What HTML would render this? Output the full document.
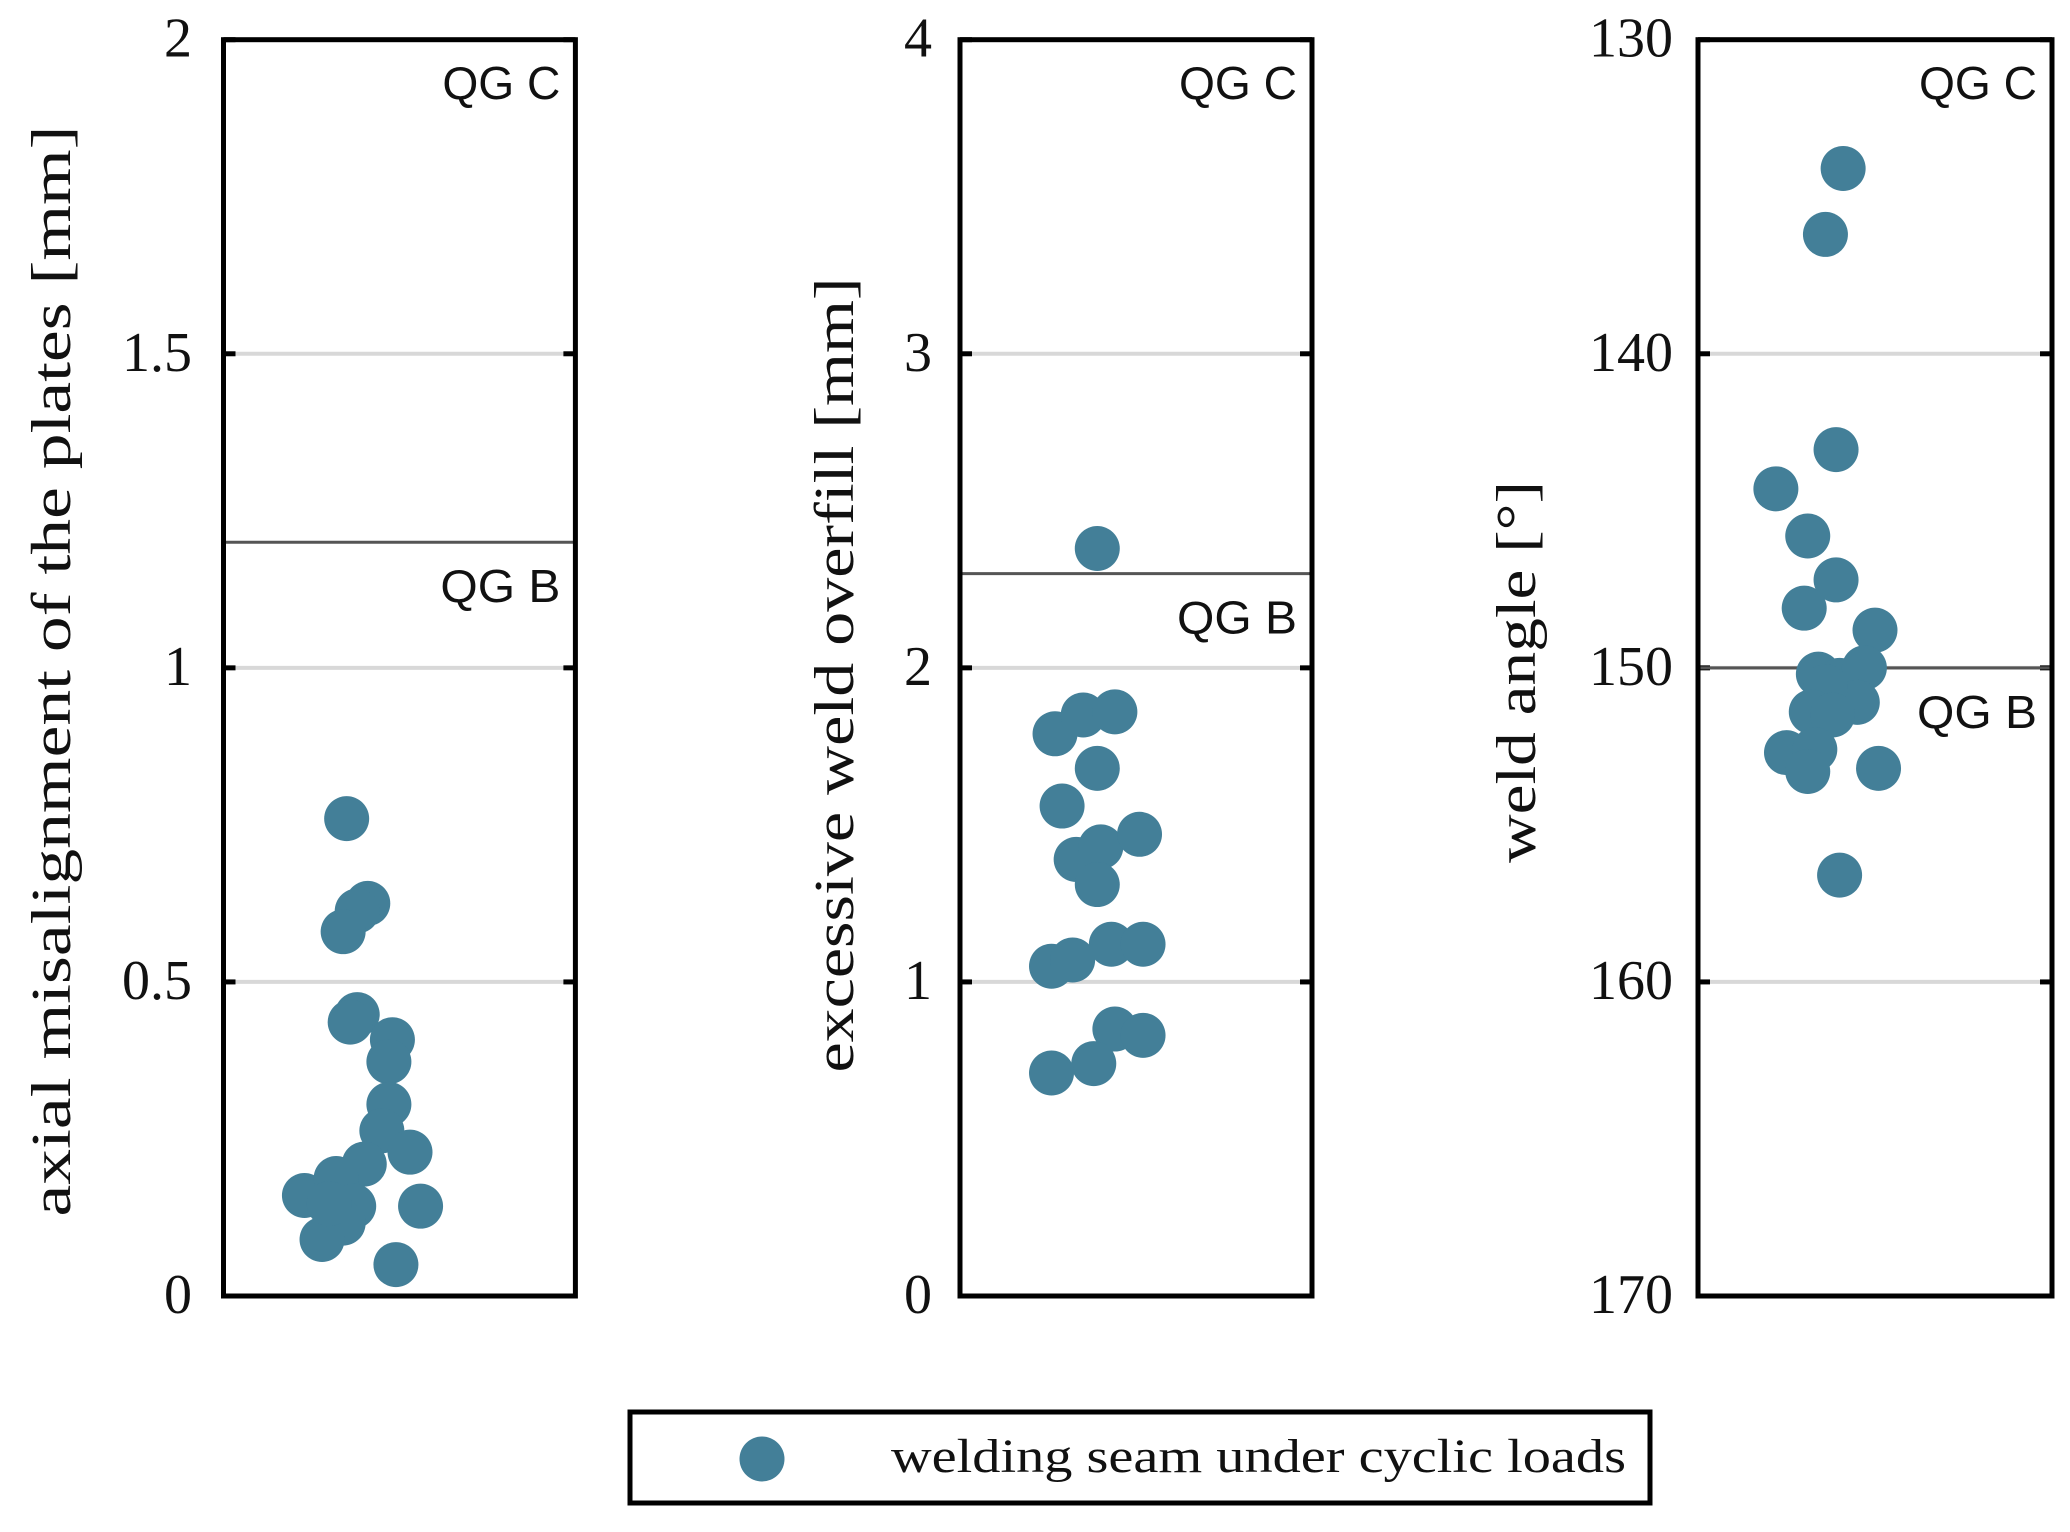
<!DOCTYPE html>
<html><head><meta charset="utf-8"><style>
html,body{margin:0;padding:0;background:#fff;}
svg{display:block;}
text{font-family:"Liberation Serif",serif;fill:#111;}
.qg{font-family:"Liberation Sans",sans-serif;}
</style></head><body>
<svg id="chart" width="2070" height="1532" viewBox="0 0 2070 1532"></svg>
<script>
// ----- data -----
const p1Values = [0.76,0.625,0.613,0.58,0.448,0.436,0.408,0.373,0.305,0.263,0.229,0.21,0.16,0.187,0.143,0.116,0.09,0.143,0.05,0.147];
const p1Jitter = [0.35,0.41,0.38,0.34,0.38,0.36,0.48,0.47,0.47,0.45,0.53,0.40,0.23,0.32,0.37,0.34,0.28,0.56,0.49,0.30];
const p2Values = [2.38,1.79,1.85,1.86,1.68,1.56,1.39,1.43,1.31,1.47,1.05,1.07,1.12,1.12,0.85,0.83,0.74,0.71];
const p2Jitter = [0.39,0.27,0.35,0.44,0.39,0.29,0.33,0.40,0.39,0.51,0.26,0.32,0.43,0.52,0.44,0.52,0.38,0.26];
const p3Values = [134.1,136.2,143.05,144.3,145.8,147.2,148.1,148.8,150.2,150.4,150.0,151.1,150.6,151.4,151.5,152.7,152.6,153.3,153.2,156.6];
const p3Jitter = [0.41,0.36,0.39,0.22,0.31,0.39,0.30,0.50,0.34,0.40,0.47,0.45,0.36,0.32,0.38,0.25,0.33,0.31,0.51,0.40];
const p1Ticks = [0,0.5,1,1.5,2];
const p1TickLabels = ["0","0.5","1","1.5","2"];
const p2Ticks = [0,1,2,3,4];
const p2TickLabels = ["0","1","2","3","4"];
const p3Ticks = [130,140,150,160,170];
const p3TickLabels = ["130","140","150","160","170"];
const limitsQGB = [1.2, 2.3, 150];

const NS="http://www.w3.org/2000/svg";
const svg=document.getElementById('chart');
function mk(tag,attrs,parent){const e=document.createElementNS(NS,tag);for(const k in attrs)e.setAttribute(k,attrs[k]);(parent||svg).appendChild(e);return e;}

const TOP=39.7,BOT=1296,COLOR="#437f98";
const panels=[
 {x0:223.5,x1:575.4,min:0,max:2,rev:false,vals:p1Values,jit:p1Jitter,ticks:p1Ticks,tl:p1TickLabels,lim:limitsQGB[0],label:"axial misalignment of the plates [mm]",lx:53,ly:671,llen:1091,tlx:192},
 {x0:960,x1:1312,min:0,max:4,rev:false,vals:p2Values,jit:p2Jitter,ticks:p2Ticks,tl:p2TickLabels,lim:limitsQGB[1],label:"excessive weld overfill [mm]",lx:836,ly:675,llen:795,tlx:932},
 {x0:1698,x1:2052,min:130,max:170,rev:true,vals:p3Values,jit:p3Jitter,ticks:p3Ticks,tl:p3TickLabels,lim:limitsQGB[2],label:"weld angle [°]",lx:1518,ly:672,llen:382,tlx:1673}
];

panels.forEach((p,i)=>{
  const g=mk('g',{});
  
  
  const y=v=>p.rev? TOP+(v-p.min)/(p.max-p.min)*(BOT-TOP) : BOT-(v-p.min)/(p.max-p.min)*(BOT-TOP);
  const xs=f=>p.x0+f*(p.x1-p.x0);
  p.ticks.forEach((t,k)=>{
    const yy=y(t);
    if(k>0&&k<p.ticks.length-1){
      const gl=mk('line',{x1:p.x0,x2:p.x1,y1:yy,y2:yy,stroke:"#d8d8d8","stroke-width":4},g);
      
      
    }
    mk('line',{x1:p.x0,x2:p.x0+12,y1:yy,y2:yy,stroke:"#000","stroke-width":5},g);
    mk('line',{x1:p.x1-12,x2:p.x1,y1:yy,y2:yy,stroke:"#000","stroke-width":5},g);
    const tx=mk('text',{x:p.tlx,y:yy+17,"text-anchor":"end","font-size":56},g);
    tx.textContent=p.tl[k];
    
    
  });
  const ly=y(p.lim);
  const lim=mk('line',{x1:p.x0,x2:p.x1,y1:ly,y2:ly,stroke:"#555","stroke-width":3},g);
  
  
  const qc=mk('text',{x:p.x1-15,y:99,"text-anchor":"end","font-size":46,"class":"qg",textLength:118,lengthAdjust:"spacingAndGlyphs"},g);
  qc.textContent="QG C";
  
  
  const qb=mk('text',{x:p.x1-15,y:ly+60,"text-anchor":"end","font-size":46,"class":"qg",textLength:120,lengthAdjust:"spacingAndGlyphs"},g);
  qb.textContent="QG B";
  
  
  p.vals.forEach((v,k)=>{
    const c=mk('circle',{cx:xs(p.jit[k]),cy:y(v),r:22.5,fill:COLOR},g);
    
    
  });
  const fr=mk('rect',{x:p.x0,y:TOP,width:p.x1-p.x0,height:BOT-TOP,fill:"none",stroke:"#000","stroke-width":5},g);
  
  
  const yl=mk('text',{x:0,y:0,"text-anchor":"middle","font-size":56,transform:`translate(${p.lx+17},${p.ly}) rotate(-90)`,textLength:p.llen,lengthAdjust:"spacingAndGlyphs"},g);
  yl.textContent=p.label;
  
  
});

const lg=mk('g',{});


mk('rect',{x:630,y:1412,width:1020,height:91,fill:"#fff",stroke:"#000","stroke-width":5},lg);
const lm=mk('circle',{cx:762,cy:1459,r:22.5,fill:COLOR},lg);


const lt=mk('text',{x:891,y:1472,"font-size":48,textLength:735,lengthAdjust:"spacingAndGlyphs"},lg);
lt.textContent="welding seam under cyclic loads";


</script>
</body></html>
